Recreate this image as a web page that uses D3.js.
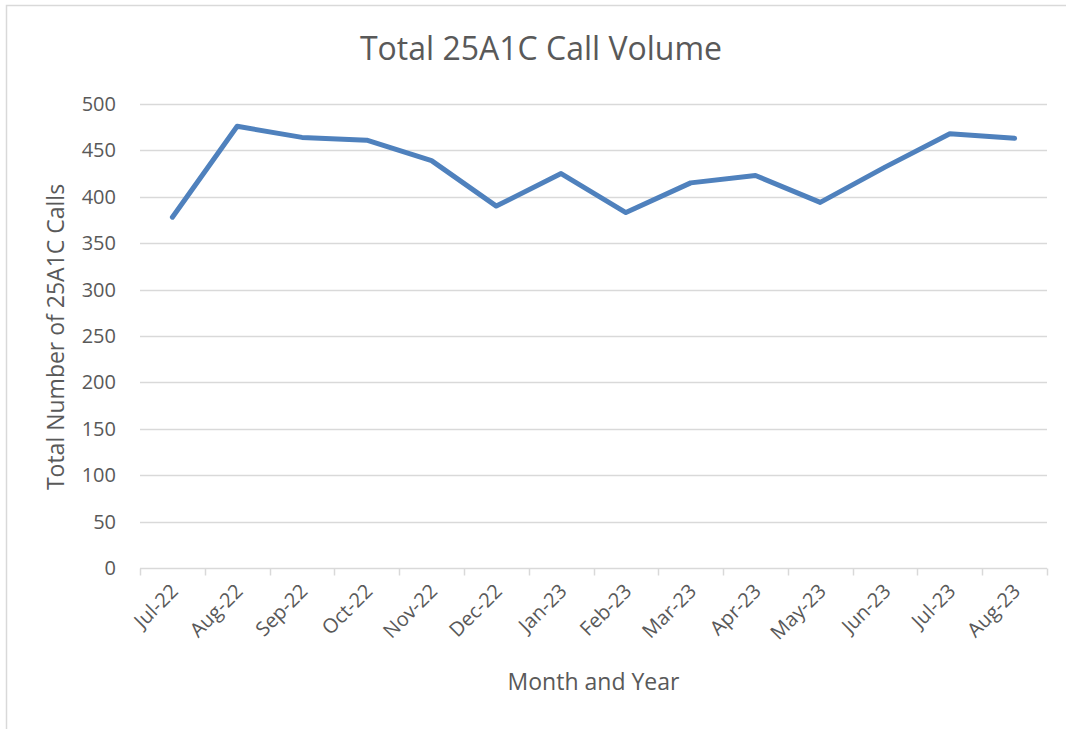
<!DOCTYPE html>
<html>
<head>
<meta charset="utf-8">
<script src="https://cdn.jsdelivr.net/npm/d3@7"></script>
<style>
    body { margin: 0; background: #fff; }
    text { font-family: "Open Sans", "Noto Sans", sans-serif; fill: #595959; }
</style>
</head>
<body>
<div id="chart"></div>
<script>
var months = ["Jul-22", "Aug-22", "Sep-22", "Oct-22", "Nov-22", "Dec-22", "Jan-23",
    "Feb-23", "Mar-23", "Apr-23", "May-23", "Jun-23", "Jul-23", "Aug-23"];
var calls = [378, 476, 464, 461, 439, 390, 425, 383, 415, 423, 394, 432, 468, 463];
var yTicks = [0, 50, 100, 150, 200, 250, 300, 350, 400, 450, 500];

var margin = { left: 140, right: 19, top: 104, bottom: 161 };
var W = 1066, H = 729;
var width = W - margin.left - margin.right;
var height = H - margin.top - margin.bottom;

var svg = d3.select("#chart")
    .append("svg")
    .attr("width", W)
    .attr("height", H);

// outer chart border
svg.append("rect")
    .attr("x", 6.5)
    .attr("y", 5.5)
    .attr("width", W + 10)
    .attr("height", H + 10)
    .attr("fill", "none")
    .attr("stroke", "#d9d9d9")
    .attr("stroke-width", 1.5);

var g = svg.append("g")
    .attr("transform", "translate(" + margin.left + "," + margin.top + ")");

var x = d3.scaleBand().domain(months).range([0, width]);
var y = d3.scaleLinear().domain([0, 500]).range([height, 0]);

// gridlines
g.selectAll(".grid")
    .data(yTicks.filter(d => d > 0))
    .enter().append("line")
    .attr("class", "grid")
    .attr("x1", 0)
    .attr("x2", width)
    .attr("y1", d => Math.round(y(d)) + 0.5)
    .attr("y2", d => Math.round(y(d)) + 0.5)
    .attr("stroke", "#d9d9d9")
    .attr("stroke-width", 1.5);

// y axis labels
var yAxis = g.append("g")
    .call(d3.axisLeft(y).tickValues(yTicks).tickSize(0).tickPadding(24));
yAxis.select(".domain").remove();
yAxis.selectAll("text")
    .attr("font-size", "20px")
    .attr("font-family", null)
    .attr("fill", null);

// x axis line and ticks at category boundaries
var xAxis = g.append("g")
    .attr("transform", "translate(0," + (Math.round(height) + 0.5) + ")");
xAxis.append("line")
    .attr("x1", 0)
    .attr("x2", width)
    .attr("stroke", "#d9d9d9")
    .attr("stroke-width", 1.5);
var bounds = months.map(d => x(d)).concat([width]);
xAxis.selectAll(".tick-mark")
    .data(bounds)
    .enter().append("line")
    .attr("class", "tick-mark")
    .attr("x1", d => Math.round(d) + 0.5)
    .attr("x2", d => Math.round(d) + 0.5)
    .attr("y1", 0)
    .attr("y2", 7)
    .attr("stroke", "#d9d9d9")
    .attr("stroke-width", 1.5);
xAxis.selectAll(".xlabel")
    .data(months)
    .enter().append("text")
    .attr("class", "xlabel")
    .attr("text-anchor", "end")
    .attr("font-size", "20px")
    .attr("transform", d => "translate(" + (x(d) + x.bandwidth() / 2 + 7) + ",24) rotate(-45)")
    .text(d => d);

// line
var line = d3.line()
    .x((d, i) => x(months[i]) + x.bandwidth() / 2)
    .y(d => y(d));

g.append("path")
    .datum(calls)
    .attr("fill", "none")
    .attr("stroke", "#4f81bd")
    .attr("stroke-width", 5)
    .attr("stroke-linejoin", "round")
    .attr("stroke-linecap", "round")
    .attr("d", line);

// titles
svg.append("text")
    .attr("x", 541)
    .attr("y", 60)
    .attr("text-anchor", "middle")
    .attr("font-size", "32px")
    .text("Total 25A1C Call Volume");

svg.append("text")
    .attr("transform", "translate(64,337) rotate(-90)")
    .attr("text-anchor", "middle")
    .attr("font-size", "23px")
    .text("Total Number of 25A1C Calls");

svg.append("text")
    .attr("x", margin.left + width / 2)
    .attr("y", 690)
    .attr("text-anchor", "middle")
    .attr("font-size", "23px")
    .text("Month and Year");
</script>
</body>
</html>
